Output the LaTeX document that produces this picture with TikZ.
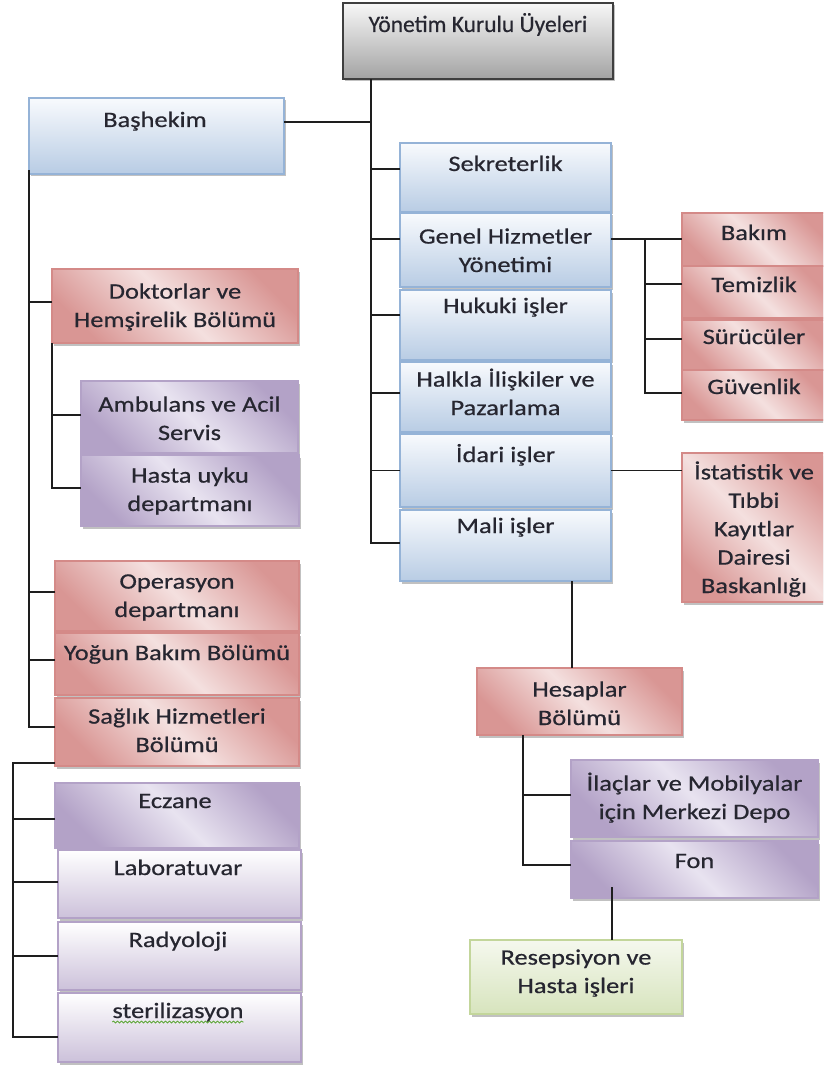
\documentclass[tikz,border=0pt]{standalone}
\usepackage{fontspec}
\setmainfont{Carlito}[FakeStretch=1.2,FakeBold=0.6]
\newfontfamily\topfont{Carlito}[FakeBold=0.6]
\usetikzlibrary{shadows,calc,decorations.pathmorphing}
\definecolor{tcol}{HTML}{262630}
\definecolor{lcol}{HTML}{1E1E1E}
\definecolor{btop}{HTML}{F8FAFD}
\definecolor{bbot}{HTML}{B8CCE4}
\definecolor{bbord}{HTML}{95B3D7}
\definecolor{rdark}{HTML}{D99694}
\definecolor{rlight}{HTML}{F4E0DF}
\definecolor{rbord}{HTML}{D48A88}
\definecolor{pdark}{HTML}{B3A2C7}
\definecolor{plight}{HTML}{E8E3F0}
\definecolor{pbot}{HTML}{CCC1DA}
\definecolor{pbord}{HTML}{B3A2C7}
\definecolor{gtop}{HTML}{F5F8EE}
\definecolor{gbot}{HTML}{D7E4BD}
\definecolor{gbord}{HTML}{C3D69B}
\definecolor{ktop}{HTML}{F7F7F7}
\definecolor{kbot}{HTML}{A3A3A3}
\definecolor{kbord}{HTML}{3F3F3F}
\definecolor{spell}{HTML}{5FA83A}
\tikzset{
  box/.style={draw, line width=1.2pt, inner sep=0pt, outer sep=0pt, anchor=north west,
    drop shadow={shadow xshift=2pt, shadow yshift=-2.5pt, opacity=.4, fill=black!60}},
  bluebox/.style={box, draw=bbord, top color=btop, bottom color=bbot},
  redbox/.style={box, draw=rbord, top color=rdark, bottom color=rdark, middle color=rlight, shading angle=-45},
  purpbox/.style={box, draw=pbord, top color=pdark, bottom color=pdark, middle color=plight, shading angle=-45},
  purpvbox/.style={box, draw=pbord, top color=white, bottom color=pbot},
  greenbox/.style={box, draw=gbord, top color=gtop, bottom color=gbot},
  graybox/.style={box, draw=kbord, top color=ktop, bottom color=kbot},
  txt/.style={anchor=base, align=center, inner sep=0pt, text=tcol, font=\fontsize{22}{28.4}\selectfont},
  toptxt/.style={anchor=base, align=center, inner sep=0pt, text=tcol, font=\topfont\fontsize{23.5}{28}\selectfont},
  conn/.style={draw=lcol, line width=1.8pt},
}
\newcommand\mkbox[6]{\node[#2, minimum width={(#5-#3)*1pt}, minimum height={(#6-#4)*1pt}] (#1) at (#3,#4) {};}
\begin{document}
\begin{tikzpicture}[x=1pt,y=-1pt]
\clip (0,0) rectangle (823,1091);
\fill[white] (0,0) rectangle (823,1091);

% trunk coordinates
\coordinate (tr) at (371,0);
\coordinate (gb) at (645,0);
\coordinate (hs) at (572,0);
\coordinate (hb) at (523,0);
\coordinate (lb) at (13,0);
\coordinate (fr) at (612,887);

% boxes
\mkbox{top}{graybox}{343}{3}{613}{79}
\mkbox{bas}{bluebox}{29}{98}{284}{174}
\mkbox{sek}{bluebox}{400}{143}{611}{212}
\mkbox{gen}{bluebox}{400}{213}{611}{287}
\mkbox{huk}{bluebox}{400}{290}{611}{360}
\mkbox{hal}{bluebox}{400}{362}{611}{432}
\mkbox{ida}{bluebox}{400}{434}{611}{507}
\mkbox{mal}{bluebox}{400}{510}{611}{581}
\mkbox{bak}{redbox}{682}{213}{828}{266}
\mkbox{tem}{redbox}{682}{266}{828}{318}
\mkbox{sur}{redbox}{682}{320}{828}{370}
\mkbox{guv}{redbox}{682}{370}{828}{420}
\mkbox{ist}{redbox}{682}{453}{828}{602}
\mkbox{dok}{redbox}{52}{269}{298}{343}
\mkbox{amb}{purpbox}{81}{381}{298}{453}
\mkbox{has}{purpbox}{81}{455}{299}{526}
\mkbox{ope}{redbox}{55}{561}{299}{631}
\mkbox{yog}{redbox}{55}{633}{299}{695}
\mkbox{sag}{redbox}{55}{698}{299}{766}
\mkbox{ecz}{purpbox}{55}{783}{299}{848}
\mkbox{lab}{purpvbox}{58}{850}{301}{918}
\mkbox{rad}{purpvbox}{58}{922}{301}{990}
\mkbox{ste}{purpvbox}{58}{993}{301}{1062}
\mkbox{hes}{redbox}{477}{668}{682}{735}
\mkbox{ila}{purpbox}{571}{760}{818}{837}
\mkbox{fon}{purpbox}{571}{841}{818}{898}
\mkbox{res}{greenbox}{470}{940}{682}{1014}

% texts (base anchor = baseline of the last line)
\node[toptxt] (top-t) at (478,32) {Yönetim Kurulu Üyeleri};
\node[txt] (bas-t) at (155,127) {Başhekim};
\node[txt] (sek-t) at (505.5,171) {Sekreterlik};
\node[txt] (gen-t) at (505.5,272) {Genel Hizmetler\\Yönetimi};
\node[txt] (huk-t) at (505.5,313) {Hukuki işler};
\node[txt] (hal-t) at (505.5,415) {Halkla İlişkiler ve\\Pazarlama};
\node[txt] (ida-t) at (505.5,462) {İdari işler};
\node[txt] (mal-t) at (505.5,533) {Mali işler};
\node[txt] (bak-t) at (754,240) {Bakım};
\node[txt] (tem-t) at (754,292) {Temizlik};
\node[txt] (sur-t) at (754,344) {Sürücüler};
\node[txt] (guv-t) at (754,394) {Güvenlik};
\node[txt] (ist-t) at (754,593) {İstatistik ve\\Tıbbi\\Kayıtlar\\Dairesi\\Baskanlığı};
\node[txt] (dok-t) at (175,327) {Doktorlar ve\\Hemşirelik Bölümü};
\node[txt] (amb-t) at (189.5,440) {Ambulans ve Acil\\Servis};
\node[txt] (has-t) at (190,511) {Hasta uyku\\departmanı};
\node[txt] (ope-t) at (177,617) {Operasyon\\departmanı};
\node[txt] (yog-t) at (177,660) {Yoğun Bakım Bölümü};
\node[txt] (sag-t) at (177,752) {Sağlık Hizmetleri\\Bölümü};
\node[txt] (ecz-t) at (175,808) {Eczane};
\node[txt] (lab-t) at (178,875) {Laboratuvar};
\node[txt] (rad-t) at (178,947) {Radyoloji};
\node[txt] (ste-t) at (178,1018) {sterilizasyon};
\node[txt] (hes-t) at (579.5,725) {Hesaplar\\Bölümü};
\node[txt] (ila-t) at (694.5,819) {İlaçlar ve Mobilyalar\\için Merkezi Depo};
\node[txt] (fon-t) at (694.5,868) {Fon};
\node[txt] (res-t) at (576,993) {Resepsiyon ve\\Hasta işleri};

% spell-check underline
\draw[spell, line width=0.9pt, decorate, decoration={snake, amplitude=0.9pt, segment length=4pt}]
  ([yshift=-4pt]ste-t.base west) -- ([yshift=-4pt]ste-t.base east);

% ---- connectors ----
\draw[conn] (top.south -| tr) -- ([yshift=2.5pt]mal.west -| tr) -- ([yshift=2.5pt]mal.west);
\draw[conn] ([yshift=14pt]bas.east) -- ([yshift=14pt]bas.east -| tr);
\draw[conn] ([yshift=8.5pt]sek.west) -- ([yshift=8.5pt]sek.west -| tr);
\draw[conn] ([yshift=11pt]gen.west) -- ([yshift=11pt]gen.west -| tr);
\draw[conn] ([yshift=10pt]huk.west) -- ([yshift=10pt]huk.west -| tr);
\draw[conn] ([yshift=4pt]hal.west) -- ([yshift=4pt]hal.west -| tr);
\draw[conn] (ida.west) -- (ida.west -| tr);

\draw[conn] ([yshift=11pt]gen.east) -- ([yshift=11pt]gen.east -| bak.west);
\draw[conn] ([yshift=11pt]gen.east -| gb) |- ([yshift=2pt]guv.west);
\draw[conn] ([yshift=8pt]tem.west) -- ([yshift=8pt]tem.west -| gb);
\draw[conn] ([yshift=6pt]sur.west) -- ([yshift=6pt]sur.west -| gb);

\draw[conn] (ida.east) -- (ida.east -| ist.west);

\draw[conn] (mal.south -| hs) -- (hes.north -| hs);
\draw[conn] (hes.south -| hb) |- ([yshift=4.5pt]fon.west);
\draw[conn] ([yshift=3.5pt]ila.west) -- ([yshift=3.5pt]ila.west -| hb);
\draw[conn] (fr) -- (fr |- res.north);

\draw[conn] ([yshift=4pt]bas.south west) |- ([yshift=5pt]sag.west);
\draw[conn] ([yshift=4pt]dok.west) -- ([yshift=4pt]dok.west -| bas.west);
\draw[conn] ([yshift=4pt]ope.west) -- ([yshift=4pt]ope.west -| bas.west);
\draw[conn] ([yshift=4pt]yog.west) -- ([yshift=4pt]yog.west -| bas.west);

\draw[conn] (dok.south west) |- ([yshift=2.5pt]has.west);
\draw[conn] ([yshift=2pt]amb.west) -- ([yshift=2pt]amb.west -| dok.west);

\draw[conn] ([yshift=3pt]sag.south west) -| ([yshift=-9.5pt]ste.west -| lb) -- ([yshift=-9.5pt]ste.west);
\draw[conn] ([yshift=-3.5pt]ecz.west) -- ([yshift=-3.5pt]ecz.west -| lb);
\draw[conn] ([yshift=2pt]lab.west) -- ([yshift=2pt]lab.west -| lb);
\draw[conn] (rad.west) -- (rad.west -| lb);
\end{tikzpicture}
\end{document}
